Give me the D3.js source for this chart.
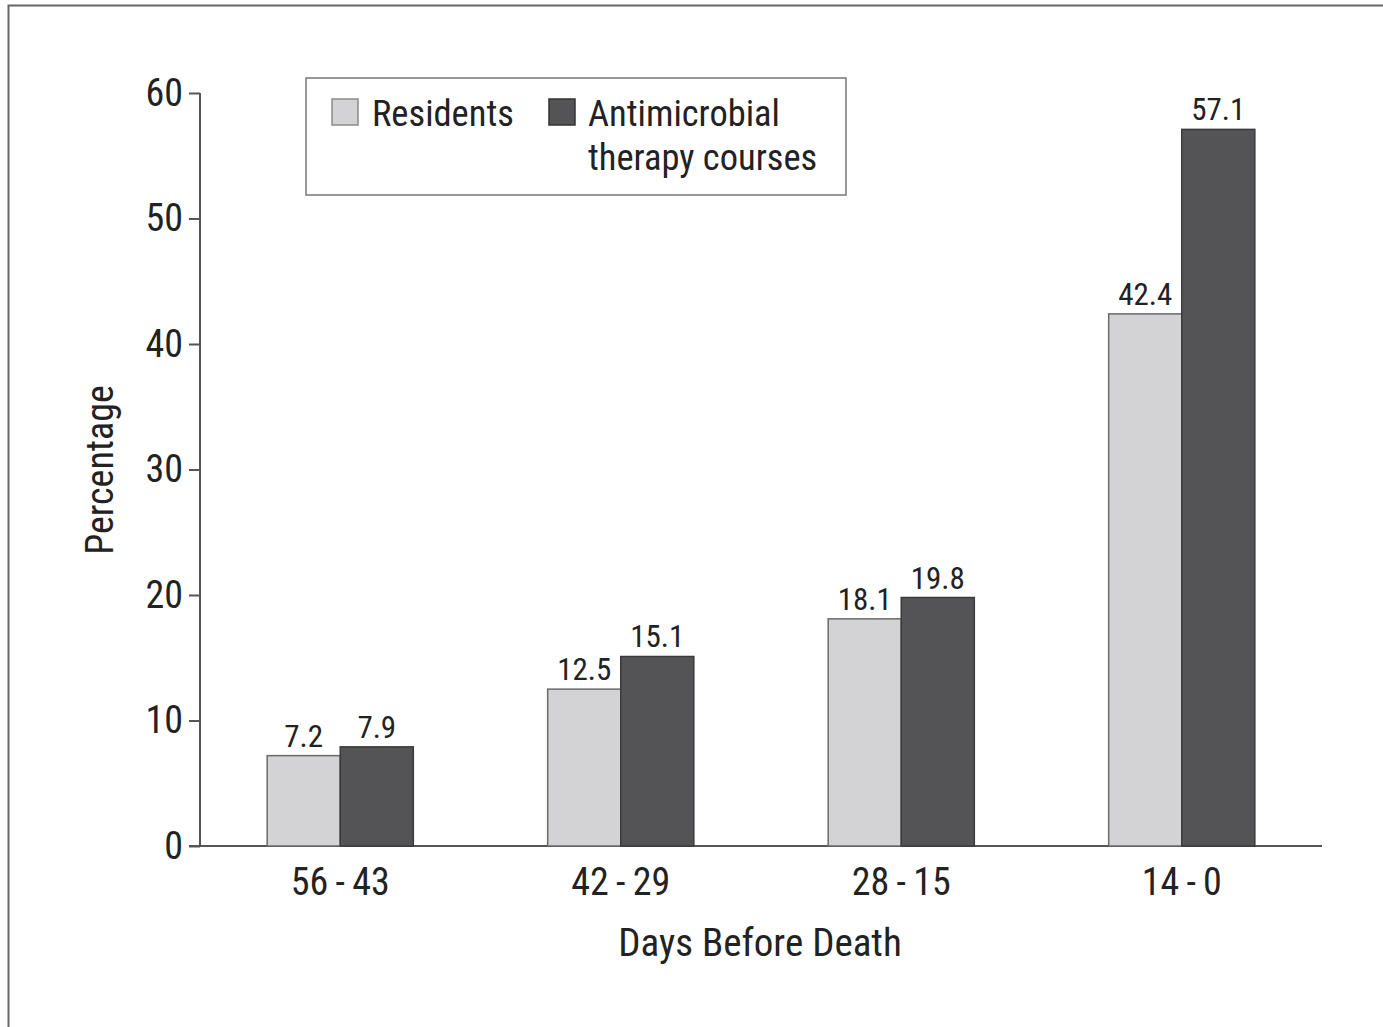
<!DOCTYPE html>
<html><head><meta charset="utf-8">
<script src="https://cdn.jsdelivr.net/npm/d3@7"></script>
<style>
html,body{margin:0;padding:0;background:#fff;overflow:hidden}
text{font-family:"Roboto Condensed","Liberation Sans Narrow","Liberation Sans",Arial,sans-serif;fill:#222}
</style></head><body>
<svg id="c" width="1383" height="1027"></svg>
<script>
const categories = ["56\u2009-\u200943", "42\u2009-\u200929", "28\u2009-\u200915", "14\u2009-\u20090"];
const seriesNames = ["Residents", "Antimicrobial therapy courses"];
const residents = [7.2, 12.5, 18.1, 42.4];
const courses = [7.9, 15.1, 19.8, 57.1];
const yTicks = [0, 10, 20, 30, 40, 50, 60];
const colors = ["#d3d3d5", "#545456"];

const svg = d3.select("#c");
// outer frame
svg.append("rect").attr("x", 8.5).attr("y", 5.5).attr("width", 1400).attr("height", 1100)
  .attr("fill", "none").attr("stroke", "#666").attr("stroke-width", 2);

const x0 = d3.scaleBand().domain(categories).range([200, 1322]).paddingInner(0.479).paddingOuter(0.2395);
const x1 = d3.scaleBand().domain([0, 1]).range([0, x0.bandwidth()]);
const y = d3.scaleLinear().domain([0, 60]).range([846, 93]);

// y axis
const yAxis = svg.append("g").attr("transform", "translate(200,0)")
  .call(d3.axisLeft(y).tickValues(yTicks).tickSize(11).tickPadding(6));
yAxis.select(".domain").attr("stroke", "#555").attr("stroke-width", 2).attr("d", "M0,93V846");
yAxis.selectAll(".tick line").attr("stroke", "#555").attr("stroke-width", 2);
yAxis.selectAll(".tick text").attr("font-size", 38).attr("fill", "#222");

// x axis
const xAxis = svg.append("g").attr("transform", "translate(0,846)")
  .call(d3.axisBottom(x0).tickSize(0).tickPadding(22));
xAxis.select(".domain").attr("stroke", "#555").attr("stroke-width", 2).attr("d", "M189,0H1322");
xAxis.selectAll(".tick text").attr("font-size", 38).attr("fill", "#222");

// bars
const data = categories.map((c, i) => ({c, v: [residents[i], courses[i]]}));
const g = svg.append("g");
data.forEach(d => {
  d.v.forEach((v, j) => {
    const bx = x0(d.c) + x1(j);
    g.append("rect").attr("x", bx).attr("y", y(v)).attr("width", x1.bandwidth())
      .attr("height", y(0) - y(v)).attr("fill", colors[j])
      .attr("stroke", j === 0 ? "#6a6a6a" : "#3a3a3a").attr("stroke-width", 1.5);
    g.append("text").attr("x", bx + x1.bandwidth() / 2).attr("y", y(v) - 9)
      .attr("text-anchor", "middle").attr("font-size", 31).text(v.toFixed(1));
  });
});

// axis titles
svg.append("text").attr("x", 760).attr("y", 956).attr("text-anchor", "middle")
  .attr("font-size", 39).text("Days Before Death");
svg.append("text").attr("transform", "translate(113,470) rotate(-90)").attr("text-anchor", "middle")
  .attr("font-size", 38).text("Percentage");

// legend
const lg = svg.append("g");
lg.append("rect").attr("x", 306).attr("y", 78).attr("width", 540).attr("height", 117)
  .attr("fill", "#fff").attr("stroke", "#777").attr("stroke-width", 1.5);
lg.append("rect").attr("x", 332).attr("y", 99).attr("width", 26).attr("height", 26)
  .attr("fill", colors[0]).attr("stroke", "#8a8a8a").attr("stroke-width", 1.5);
lg.append("text").attr("x", 372).attr("y", 126).attr("font-size", 36.5).text(seriesNames[0]);
lg.append("rect").attr("x", 549).attr("y", 99).attr("width", 26).attr("height", 26)
  .attr("fill", colors[1]).attr("stroke", "#333").attr("stroke-width", 1.5);
const t2 = lg.append("text").attr("x", 588).attr("y", 126).attr("font-size", 36.5);
t2.append("tspan").attr("x", 588).text("Antimicrobial");
t2.append("tspan").attr("x", 588).attr("dy", 44).text("therapy courses");
</script>
</body></html>
